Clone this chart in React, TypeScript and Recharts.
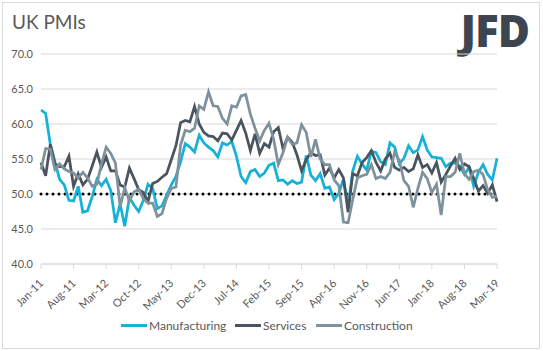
import { LineChart, Line, XAxis, YAxis, CartesianGrid, ReferenceLine } from "recharts";

// monthly categories Jan-11 .. Mar-19
const MONTHS = ["Jan", "Feb", "Mar", "Apr", "May", "Jun", "Jul", "Aug", "Sep", "Oct", "Nov", "Dec"];
const YEARS = ["11", "12", "13", "14", "15", "16", "17", "18", "19"];
const CATEGORIES: string[] = YEARS.flatMap((y) => MONTHS.map((m) => `${m}-${y}`)).slice(0, 99);
const TICK_LABELS = ["Jan-11", "Aug-11", "Mar-12", "Oct-12", "May-13", "Dec-13", "Jul-14", "Feb-15", "Sep-15", "Apr-16", "Nov-16", "Jun-17", "Jan-18", "Aug-18", "Mar-19"];
const Y_TICKS = [40, 45, 50, 55, 60, 65, 70];

const MANUFACTURING = [
  62.0, 61.5, 57.1, 54.6, 52.1, 51.3, 49.1, 49.0, 51.1, 47.4, 47.6, 49.6,
  52.1, 51.2, 52.1, 50.5, 45.9, 48.6, 45.4, 49.5, 48.4, 47.5, 49.1, 51.4,
  50.8, 47.9, 48.3, 49.8, 51.3, 52.5, 54.6, 57.2, 56.7, 56.0, 58.4, 57.3,
  56.7, 56.2, 55.3, 57.3, 57.0, 57.5, 55.4, 52.5, 51.6, 53.2, 53.5, 52.5,
  53.0, 54.1, 54.4, 51.9, 52.0, 51.4, 51.9, 51.5, 51.7, 55.5, 52.7, 51.9,
  52.9, 50.8, 51.0, 49.2, 50.1, 52.1, 48.2, 53.3, 55.4, 54.3, 53.4, 56.1,
  55.9, 54.6, 54.2, 57.3, 56.7, 54.3, 55.1, 56.9, 55.9, 56.3, 58.2, 56.3,
  55.3, 55.2, 55.1, 53.9, 54.4, 54.4, 54.0, 52.8, 53.8, 51.1, 53.1, 54.2,
  52.8, 52.0, 55.1,
];

const SERVICES = [
  54.5, 52.6, 57.1, 54.3, 53.9, 53.9, 55.4, 51.1, 52.9, 51.3, 52.1, 54.0,
  56.0, 53.8, 55.3, 53.3, 53.3, 51.3, 51.0, 53.7, 52.2, 50.6, 50.2, 48.9,
  51.5, 51.8, 52.4, 52.9, 54.9, 56.9, 60.2, 60.5, 60.3, 62.5, 60.0, 58.8,
  58.3, 58.2, 57.6, 58.7, 58.6, 57.7, 59.1, 60.5, 58.7, 56.2, 58.6, 55.8,
  57.2, 56.7, 58.9, 59.5, 56.5, 58.1, 57.4, 55.6, 53.3, 54.9, 55.9, 55.5,
  55.6, 52.7, 53.7, 52.3, 53.5, 52.3, 47.4, 52.9, 52.6, 54.5, 55.2, 56.2,
  54.5, 53.3, 55.0, 55.8, 53.8, 53.4, 53.8, 53.2, 53.6, 55.6, 53.8, 54.2,
  53.0, 54.5, 51.7, 52.8, 54.0, 55.1, 53.5, 54.3, 53.9, 52.2, 50.4, 51.2,
  50.1, 51.3, 48.9,
];

const CONSTRUCTION = [
  53.5, 56.5, 56.4, 53.5, 54.3, 53.6, 53.2, 53.0, 52.3, 53.1, 52.3, 51.1,
  51.4, 54.3, 56.7, 55.8, 54.4, 48.2, 50.9, 49.0, 50.3, 50.7, 49.3, 48.7,
  48.7, 46.8, 47.2, 49.4, 50.8, 51.0, 57.0, 59.1, 58.9, 59.4, 62.6, 62.1,
  64.6, 62.6, 62.5, 60.8, 60.0, 62.6, 62.4, 64.0, 64.2, 61.4, 59.4, 57.6,
  59.1, 60.1, 57.8, 54.2, 55.9, 58.1, 57.1, 57.3, 59.9, 58.8, 55.3, 57.8,
  55.0, 54.2, 54.2, 52.0, 51.2, 46.0, 45.9, 49.2, 52.3, 52.6, 52.8, 54.2,
  52.2, 52.5, 52.2, 53.1, 56.0, 54.8, 51.9, 51.1, 48.1, 50.8, 53.1, 52.2,
  50.2, 51.4, 47.0, 52.5, 52.5, 53.1, 55.8, 52.9, 52.1, 53.2, 53.4, 52.8,
  50.6, 49.5, 49.7,
];

const COLORS = { manufacturing: "#16B1D7", services: "#4A545E", construction: "#7F929C" };
const FONT = "Lato, 'Open Sans', sans-serif";
const TEXT = "#595959";

const data = CATEGORIES.map((month, i) => ({
  month,
  manufacturing: MANUFACTURING[i],
  services: SERVICES[i],
  construction: CONSTRUCTION[i],
}));

function RotatedTick({ x, y, payload }: any) {
  const tx = x + 3;
  const ty = y + 13;
  return (
    <text
      x={tx}
      y={ty}
      transform={`rotate(-45, ${tx}, ${ty})`}
      textAnchor="end"
      fontSize={11}
      fontFamily={FONT}
      fill={TEXT}
    >
      {payload.value}
    </text>
  );
}

const LEGEND = [
  { key: "manufacturing", name: "Manufacturing", x: 121 },
  { key: "services", name: "Services", x: 235 },
  { key: "construction", name: "Construction", x: 316 },
] as const;

export default function App() {
  return (
    <div style={{ position: "fixed", left: 0, top: 0, width: 543, height: 351, background: "#fff", fontFamily: FONT }}>
      <div style={{ position: "absolute", left: 2, top: 2, width: 536, height: 345, border: "1px solid #D9D9D9" }} />
      <div style={{ position: "absolute", left: 12, top: 10, fontSize: 19, color: TEXT }}>UK PMIs</div>
      <div
        style={{
          position: "absolute",
          right: 14,
          top: 0,
          fontSize: 44,
          fontWeight: 900,
          color: "#3D4650",
          letterSpacing: -1,
          fontFamily: "'Open Sans', sans-serif",
        }}
      >
        JFD
      </div>
      <LineChart width={543} height={351} data={data} margin={{ top: 54, right: 46, left: 0, bottom: 0 }}>
        <CartesianGrid vertical={false} stroke="#D9D9D9" />
        <XAxis
          dataKey="month"
          ticks={TICK_LABELS}
          interval={0}
          height={87}
          axisLine={{ stroke: "#D9D9D9" }}
          tickLine={{ stroke: "#D9D9D9" }}
          tickSize={5}
          tick={<RotatedTick />}
        />
        <YAxis
          domain={[40, 70]}
          ticks={Y_TICKS}
          width={41}
          axisLine={false}
          tickLine={false}
          tickFormatter={(v: number) => v.toFixed(1)}
          tick={{ fontSize: 11, fill: TEXT, fontFamily: FONT }}
        />
        <ReferenceLine y={50} stroke="#000" strokeWidth={3} strokeDasharray="0 6" strokeLinecap="round" />
        <Line dataKey="manufacturing" stroke={COLORS.manufacturing} strokeWidth={2.75} dot={false} isAnimationActive={false} />
        <Line dataKey="services" stroke={COLORS.services} strokeWidth={2.75} dot={false} isAnimationActive={false} />
        <Line dataKey="construction" stroke={COLORS.construction} strokeWidth={2.75} dot={false} isAnimationActive={false} />
      </LineChart>
      {LEGEND.map((l) => (
        <div key={l.key} style={{ position: "absolute", left: l.x, top: 318, display: "flex", alignItems: "center" }}>
          <span style={{ width: 26, height: 3, background: COLORS[l.key], marginRight: 2 }} />
          <span style={{ fontSize: 12, color: TEXT }}>{l.name}</span>
        </div>
      ))}
    </div>
  );
}
